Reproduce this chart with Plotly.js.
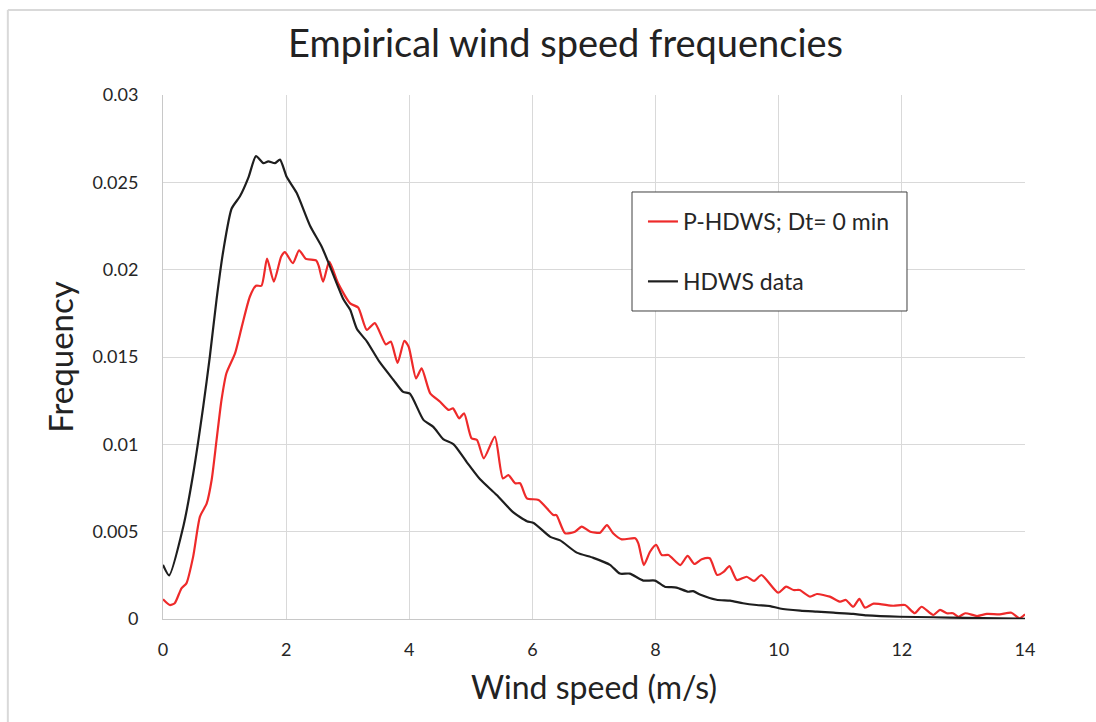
<!DOCTYPE html>
<html>
<head>
<meta charset="utf-8">
<script src="https://cdn.plot.ly/plotly-3.0.1.min.js"></script>
<style>
html,body{margin:0;padding:0;background:#fff;}
#chart{width:1096px;height:722px;}
</style>
</head>
<body>
<div id="chart"></div>
<script>
// P-HDWS; Dt= 0 min (red)
const phdwsX = [0,0.11,0.19,0.30,0.38,0.49,0.60,0.71,0.79,0.87,0.95,1.03,1.17,1.28,1.41,1.51,1.60,1.69,1.80,1.92,1.98,2.11,2.21,2.32,2.49,2.53,2.60,2.70,2.84,3.04,3.17,3.31,3.44,3.62,3.70,3.81,3.92,3.99,4.11,4.20,4.34,4.50,4.64,4.71,4.81,4.89,5.01,5.10,5.21,5.39,5.52,5.61,5.72,5.80,5.91,6.10,6.34,6.39,6.53,6.69,6.80,6.94,7.10,7.21,7.31,7.45,7.67,7.72,7.81,7.91,8.01,8.10,8.21,8.40,8.52,8.63,8.75,8.88,9.00,9.11,9.20,9.32,9.48,9.60,9.72,9.99,10.12,10.24,10.34,10.51,10.62,10.83,11.0,11.09,11.21,11.31,11.40,11.54,11.86,12.05,12.21,12.32,12.51,12.62,12.73,12.83,12.92,13.03,13.22,13.38,13.59,13.78,13.91,14];
const phdwsY = [0.00113,0.0008,0.0009,0.00176,0.00204,0.00357,0.00586,0.00662,0.00796,0.01025,0.01254,0.01407,0.01521,0.01674,0.01845,0.01908,0.01908,0.02063,0.01931,0.02075,0.0210,0.02037,0.02111,0.02062,0.02052,0.0202,0.01931,0.02046,0.01925,0.01807,0.01783,0.01655,0.01694,0.01572,0.01588,0.01466,0.01593,0.01559,0.01378,0.01435,0.01292,0.01244,0.01197,0.01206,0.01149,0.01178,0.01035,0.01025,0.0092,0.01044,0.00805,0.00824,0.00777,0.00777,0.00691,0.00681,0.00595,0.00595,0.00491,0.005,0.00529,0.005,0.00494,0.00538,0.00491,0.00456,0.00462,0.00433,0.00309,0.00385,0.00424,0.00366,0.00366,0.00309,0.00361,0.00315,0.00342,0.00348,0.00252,0.00271,0.00303,0.00223,0.00242,0.00218,0.00252,0.00151,0.00185,0.00166,0.00166,0.00128,0.00143,0.00128,0.00099,0.00109,0.0007,0.00115,0.00065,0.00088,0.00076,0.0008,0.00033,0.0007,0.00023,0.00052,0.00033,0.00033,0.00013,0.00033,0.00017,0.00029,0.00027,0.00036,0.00004,0.00027];

// HDWS data (black)
const hdwsX = [0,0.1,0.33,0.49,0.655,0.76,0.87,0.98,1.115,1.25,1.39,1.51,1.63,1.71,1.82,1.90,2.01,2.17,2.39,2.58,2.71,2.93,3.04,3.15,3.31,3.52,3.74,3.90,4.01,4.23,4.39,4.55,4.72,4.93,5.15,5.42,5.69,5.91,6.02,6.29,6.45,6.72,6.99,7.26,7.42,7.58,7.80,7.99,8.15,8.34,8.53,8.61,8.72,8.99,9.21,9.42,9.64,9.86,10.02,10.35,10.62,10.89,11.21,11.43,11.97,12.51,13.05,13.59,14];
const hdwsY = [0.0031,0.0025,0.0053,0.0083,0.0122,0.0150,0.0183,0.0211,0.0235,0.0242,0.0253,0.0265,0.0261,0.0262,0.0261,0.0263,0.0253,0.0244,0.0225,0.0213,0.0202,0.0183,0.0177,0.0166,0.0159,0.0147,0.0137,0.0130,0.0129,0.0114,0.0110,0.0103,0.0100,0.0090,0.0080,0.0071,0.0061,0.0056,0.0055,0.0047,0.0045,0.0038,0.0035,0.0031,0.0026,0.0026,0.0022,0.0022,0.00185,0.0018,0.00156,0.0016,0.0014,0.0011,0.00105,0.0009,0.0008,0.00074,0.0006,0.00048,0.00042,0.00036,0.00029,0.00021,0.00013,0.0001,0.00006,0.00004,0.00001];

const xTickVals = [0,2,4,6,8,10,12,14];
const xTickText = ['0','2','4','6','8','10','12','14'];
const yTickVals = [0,0.005,0.01,0.015,0.02,0.025,0.03];
const yTickText = ['0','0.005','0.01','0.015','0.02','0.025','0.03'];

const seriesNames = ['P-HDWS; Dt= 0 min','HDWS data'];

const FONT = 'Lato, "Open Sans", sans-serif';

const traces = [
  {x: phdwsX, y: phdwsY, type:'scatter', mode:'lines', name: seriesNames[0], legendgroup:'a',
   line:{color:'#ee2a2a', width:2.2, shape:'spline', smoothing:0.6}},
  {x: hdwsX, y: hdwsY, type:'scatter', mode:'lines', name: seriesNames[1], legendgroup:'b',
   line:{color:'#1e1e1e', width:2.2, shape:'spline', smoothing:0.6}}
];

const layout = {
  width:1096, height:722,
  margin:{l:163, r:71, t:95, b:103, pad:0},
  paper_bgcolor:'#fff', plot_bgcolor:'#fff',
  font:{family:FONT, color:'#262626'},
  title:{text:'Empirical wind speed frequencies', font:{family:FONT, size:38, color:'#222'},
         x:0.516, xanchor:'center', y:0.939, yanchor:'middle'},
  xaxis:{range:[0,14], tickvals:xTickVals, ticktext:xTickText, showgrid:true, gridcolor:'#d9d9d9', gridwidth:1,
         zeroline:false, showline:true, linecolor:'#c8c8c8', linewidth:1, ticks:'', ticklabelstandoff:14,
         tickfont:{family:FONT, size:18, color:'#262626'},
         title:{text:'Wind speed (m/s)', font:{family:FONT, size:32, color:'#222'}, standoff:18}},
  yaxis:{range:[0,0.03], tickvals:yTickVals, ticktext:yTickText, showgrid:true, gridcolor:'#d9d9d9', gridwidth:1,
         zeroline:false, showline:true, linecolor:'#c8c8c8', linewidth:1, ticks:'', ticklabelstandoff:20,
         tickfont:{family:FONT, size:18, color:'#262626'},
         title:{text:'Frequency', font:{family:FONT, size:33, color:'#222'}, standoff:8}},
  showlegend:true,
  legend:{x:0.5568, y:0.7013, xanchor:'left', yanchor:'middle', bgcolor:'rgba(0,0,0,0)', borderwidth:0,
          font:{family:FONT, size:23, color:'#262626'}, tracegroupgap:27, itemwidth:30, traceorder:'grouped'},
  shapes:[
    {type:'rect', xref:'paper', yref:'paper', x0:0.5441, x1:0.8631, y0:0.5878, y1:0.8149, layer:'above',
     fillcolor:'#ffffff', line:{color:'#404040', width:1}},
    {type:'line', xref:'paper', yref:'paper', x0:-0.18, x1:1.2, y0:1.1622, y1:1.1622, line:{color:'#d9d9d9', width:2}},
    {type:'line', xref:'paper', yref:'paper', x0:-0.18, x1:-0.18, y0:-0.3, y1:1.1622, line:{color:'#d9d9d9', width:2}}
  ]
};

Plotly.newPlot('chart', traces, layout, {displayModeBar:false, staticPlot:true});
</script>
</body>
</html>
